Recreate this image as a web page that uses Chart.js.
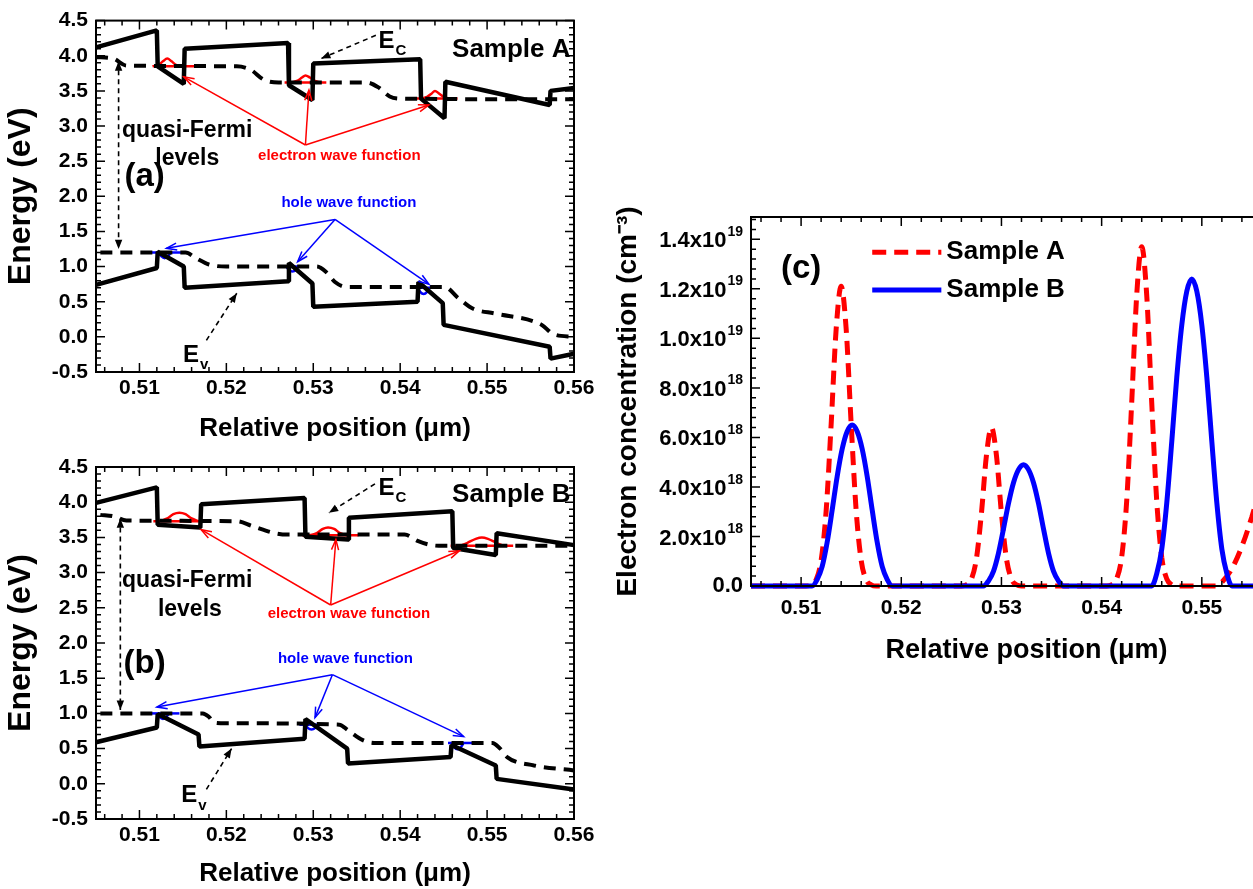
<!DOCTYPE html>
<html>
<head>
<meta charset="utf-8">
<script src="https://cdn.jsdelivr.net/npm/chart.js@4.4.0/dist/chart.umd.min.js"></script>
<style>
  body { margin: 0; background: #fff; width: 1253px; height: 889px; position: relative; overflow: hidden; }
  canvas { position: absolute; }
</style>
</head>
<body>
<canvas id="graficaA" width="600" height="445" style="left:0;top:0"></canvas>
<canvas id="graficaB" width="600" height="444" style="left:0;top:445px"></canvas>
<canvas id="graficaC" width="720" height="500" style="left:600px;top:180px"></canvas>
<script>
//-----------------------------------------------------------------------------------------
//DATOS (posicion en um, energia en eV, concentracion en 1e18 cm-3)
//-----------------------------------------------------------------------------------------
var ticksX = [0.51, 0.52, 0.53, 0.54, 0.55, 0.56];
var etiquetasX = ['0.51', '0.52', '0.53', '0.54', '0.55', '0.56'];
var ticksXC = [0.51, 0.52, 0.53, 0.54, 0.55];
var etiquetasXC = ['0.51', '0.52', '0.53', '0.54', '0.55'];
var ticksEnergia = [-0.5, 0, 0.5, 1, 1.5, 2, 2.5, 3, 3.5, 4, 4.5];
var etiquetasEnergia = ['-0.5', '0.0', '0.5', '1.0', '1.5', '2.0', '2.5', '3.0', '3.5', '4.0', '4.5'];
var ticksConc = [0, 2, 4, 6, 8, 10, 12, 14];
var etiquetasConc = ['0.0', '2.0x10^18', '4.0x10^18', '6.0x10^18', '8.0x10^18', '1.0x10^19', '1.2x10^19', '1.4x10^19'];

//MUESTRA A
var ecA = [[0.505,4.12],[0.512,4.36],[0.5121,3.85],[0.5151,3.60],[0.5152,4.10],[0.5271,4.18],[0.5272,3.58],[0.5299,3.37],[0.5300,3.89],[0.5423,3.95],[0.5424,3.39],[0.5451,3.11],[0.5452,3.63],[0.5572,3.30],[0.5573,3.50],[0.560,3.54]];
var efnA = [[0.505,3.98],[0.507,3.96],[0.5085,3.86],[0.5212,3.85],[0.5228,3.80],[0.5243,3.66],[0.526,3.62],[0.5361,3.62],[0.5375,3.55],[0.5388,3.42],[0.540,3.39],[0.560,3.38]];
var evA = [[0.505,0.74],[0.512,0.98],[0.5121,1.21],[0.5151,1.00],[0.5152,0.70],[0.5271,0.79],[0.5272,1.05],[0.5299,0.76],[0.5300,0.43],[0.5420,0.50],[0.5421,0.78],[0.5449,0.48],[0.5450,0.17],[0.5572,-0.14],[0.5573,-0.31],[0.560,-0.24]];
var efpA = [[0.5055,1.20],[0.5153,1.20],[0.5165,1.12],[0.518,1.03],[0.520,1.00],[0.5304,1.00],[0.5315,0.92],[0.5325,0.78],[0.5338,0.71],[0.5451,0.71],[0.5467,0.55],[0.5484,0.40],[0.551,0.33],[0.5563,0.17],[0.5576,0.04],[0.560,0.0]];
var ondaElecA = [
  [[0.5115,3.85],[0.5122,3.87],[0.5127,3.92],[0.5132,3.96],[0.5137,3.92],[0.5142,3.87],[0.5149,3.85]],
  [[0.5275,3.62],[0.5282,3.645],[0.5287,3.69],[0.5291,3.72],[0.5296,3.69],[0.5301,3.645],[0.5308,3.62]],
  [[0.5424,3.39],[0.5431,3.415],[0.5436,3.46],[0.5440,3.50],[0.5445,3.46],[0.5450,3.415],[0.5457,3.39]]
];
var nivelElecA = [[[0.5118,3.85],[0.5166,3.85]], [[0.5267,3.62],[0.5315,3.62]], [[0.5416,3.39],[0.5466,3.39]]];
var ondaHuecoA = [
  [[0.5122,1.20],[0.5125,1.15],[0.5129,1.12],[0.5133,1.15],[0.5136,1.20]],
  [[0.5269,1.00],[0.5272,0.95],[0.5276,0.93],[0.5280,0.95],[0.5283,1.00]],
  [[0.5420,0.70],[0.5423,0.64],[0.5427,0.61],[0.5431,0.64],[0.5434,0.70]]
];
var nivelHuecoA = [[[0.5114,1.20],[0.5153,1.20]], [[0.5267,1.00],[0.5295,1.00]], [[0.5418,0.70],[0.5447,0.70]]];

//MUESTRA B
var ecB = [[0.505,3.99],[0.512,4.21],[0.5121,3.68],[0.5170,3.64],[0.5171,3.97],[0.529,4.06],[0.5291,3.51],[0.5340,3.47],[0.5341,3.78],[0.546,3.87],[0.5461,3.35],[0.5510,3.25],[0.5511,3.56],[0.560,3.39]];
var efnB = [[0.5055,3.82],[0.507,3.80],[0.5085,3.74],[0.5212,3.73],[0.523,3.66],[0.5256,3.56],[0.527,3.54],[0.5405,3.54],[0.542,3.45],[0.5436,3.39],[0.545,3.38],[0.560,3.38]];
var evB = [[0.505,0.59],[0.512,0.80],[0.5121,0.99],[0.5168,0.70],[0.5169,0.53],[0.529,0.64],[0.5291,0.92],[0.5339,0.50],[0.5340,0.29],[0.5458,0.38],[0.5459,0.55],[0.5510,0.26],[0.5511,0.07],[0.560,-0.08]];
var efpB = [[0.5055,1.00],[0.5173,1.00],[0.518,0.95],[0.5186,0.87],[0.520,0.86],[0.533,0.84],[0.534,0.76],[0.5357,0.62],[0.537,0.58],[0.5506,0.58],[0.5515,0.50],[0.5523,0.38],[0.5554,0.26],[0.560,0.19]];
var ondaElecB = [
  [[0.5124,3.73],[0.5132,3.77],[0.5139,3.83],[0.5146,3.85],[0.5153,3.83],[0.5160,3.77],[0.5168,3.73]],
  [[0.5296,3.53],[0.5304,3.56],[0.5311,3.62],[0.5317,3.64],[0.5324,3.62],[0.5331,3.56],[0.5339,3.53]],
  [[0.5469,3.38],[0.5477,3.42],[0.5487,3.48],[0.5494,3.50],[0.5501,3.48],[0.5511,3.42],[0.5519,3.38]]
];
var nivelElecB = [[[0.5116,3.73],[0.5170,3.73]], [[0.5287,3.53],[0.5352,3.53]], [[0.5458,3.38],[0.5530,3.38]]];
var ondaHuecoB = [
  [[0.5120,1.00],[0.5123,0.95],[0.5127,0.92],[0.5131,0.95],[0.5134,1.00]],
  [[0.5291,0.84],[0.5294,0.79],[0.5298,0.77],[0.5302,0.79],[0.5305,0.84]],
  [[0.5459,0.58],[0.5462,0.52],[0.5466,0.49],[0.5470,0.52],[0.5473,0.58]]
];
var nivelHuecoB = [[[0.5114,1.00],[0.5146,1.00]], [[0.5284,0.84],[0.5315,0.84]], [[0.5455,0.58],[0.5486,0.58]]];

//CONCENTRACION DE ELECTRONES
var concA = [[0.505,0],[0.5105,0],[0.511,0.05],[0.5115,0.25],[0.512,1.03],[0.5125,3.03],[0.513,6.53],[0.5135,10.37],[0.514,12.1],[0.5145,10.37],[0.515,6.53],[0.5155,3.03],[0.516,1.03],[0.5165,0.25],[0.517,0.05],[0.5175,0],
  [0.526,0],[0.5265,0.05],[0.527,0.28],[0.5275,1.10],[0.528,2.93],[0.5285,5.27],[0.529,6.4],[0.5295,5.27],[0.530,2.93],[0.5305,1.10],[0.531,0.28],[0.5315,0.05],[0.532,0],
  [0.5405,0],[0.541,0.05],[0.5415,0.29],[0.542,1.16],[0.5425,3.43],[0.543,7.40],[0.5435,11.74],[0.544,13.7],[0.5445,11.74],[0.545,7.40],[0.5455,3.43],[0.546,1.16],[0.5465,0.29],[0.547,0.05],[0.5475,0],
  [0.5515,0],[0.552,0.15],[0.553,0.7],[0.554,1.6],[0.555,2.8],[0.556,4.2],[0.557,5.6]];
var concB = [[0.505,0],[0.5111,0],[0.5116,0.26],[0.5121,0.78],[0.5126,1.76],[0.5131,3.06],[0.5136,4.42],[0.5141,5.53],[0.5146,6.24],[0.5151,6.5],[0.5156,6.24],[0.5161,5.53],[0.5166,4.42],[0.5171,3.06],[0.5176,1.76],[0.5181,0.78],[0.5186,0.26],[0.5191,0],
  [0.5282,0],[0.5287,0.20],[0.5292,0.59],[0.5297,1.32],[0.5302,2.30],[0.5307,3.33],[0.5312,4.17],[0.5317,4.70],[0.5322,4.9],[0.5327,4.70],[0.5332,4.17],[0.5337,3.33],[0.5342,2.30],[0.5347,1.32],[0.5352,0.59],[0.5357,0.20],[0.5362,0],
  [0.5450,0],[0.5455,0.50],[0.546,1.49],[0.5465,3.35],[0.547,5.83],[0.5475,8.43],[0.548,10.54],[0.5485,11.9],[0.549,12.4],[0.5495,11.9],[0.550,10.54],[0.5505,8.43],[0.551,5.83],[0.5515,3.35],[0.552,1.49],[0.5525,0.50],[0.553,0],[0.560,0]];

//-----------------------------------------------------------------------------------------
//ESTILOS
//-----------------------------------------------------------------------------------------
var fuente = '"Liberation Sans", Arial, sans-serif';
var rojo = '#ff0000';
var azul = '#0000ff';
Chart.defaults.font.family = fuente;
Chart.defaults.color = '#000';

function serie(puntos, color, ancho, trazo, suave) {
  return {
    data: puntos.map(function (p) { return { x: p[0], y: p[1] }; }),
    borderColor: color,
    borderWidth: ancho,
    borderDash: trazo || [],
    pointRadius: 0,
    fill: false,
    tension: 0,
    cubicInterpolationMode: suave ? 'monotone' : 'default',
    borderJoinStyle: 'bevel',
    clip: 6
  };
}

//MARCAS DE LOS EJES (hacia dentro, en los cuatro lados)
function marcas(paso, mayor, min, max) {
  var lista = [];
  for (var k = Math.ceil(min / paso - 1e-6); k <= Math.floor(max / paso + 1e-6); k++) {
    var v = k * paso;
    var r = v / mayor;
    lista.push({ v: v, mayor: Math.abs(r - Math.round(r)) < 1e-6 });
  }
  return lista;
}

function punta(ctx, x1, y1, x2, y2, tipo) {
  var ang = Math.atan2(y2 - y1, x2 - x1);
  var L = tipo === 'llena' ? 10 : 11;
  var w = tipo === 'llena' ? 0.38 : 0.33;
  var ax = x2 - L * Math.cos(ang - w), ay = y2 - L * Math.sin(ang - w);
  var bx = x2 - L * Math.cos(ang + w), by = y2 - L * Math.sin(ang + w);
  ctx.beginPath();
  if (tipo === 'llena') {
    ctx.moveTo(x2, y2); ctx.lineTo(ax, ay); ctx.lineTo(bx, by); ctx.closePath(); ctx.fill();
  } else {
    ctx.moveTo(ax, ay); ctx.lineTo(x2, y2); ctx.lineTo(bx, by); ctx.stroke();
  }
}

function flecha(ctx, x1, y1, x2, y2, f) {
  ctx.save();
  ctx.strokeStyle = f.color || '#000';
  ctx.fillStyle = f.color || '#000';
  ctx.lineWidth = f.ancho || 1.5;
  ctx.setLineDash(f.trazo || []);
  ctx.beginPath(); ctx.moveTo(x1, y1); ctx.lineTo(x2, y2); ctx.stroke();
  ctx.setLineDash([]);
  if (f.punta) {
    punta(ctx, x1, y1, x2, y2, f.punta);
    if (f.doble) punta(ctx, x2, y2, x1, y1, f.punta);
  }
  ctx.restore();
}

function texto(ctx, x, y, t) {
  var principal = 'bold ' + t.size + 'px ' + fuente;
  var chica = 'bold ' + Math.round(t.size * 0.62) + 'px ' + fuente;
  ctx.save();
  ctx.fillStyle = t.color || '#000';
  ctx.textBaseline = 'middle';
  ctx.textAlign = 'left';
  ctx.font = principal;
  var w = ctx.measureText(t.t).width;
  var extra = t.sub || t.sup || '';
  ctx.font = chica;
  var we = extra ? ctx.measureText(extra).width + 1 : 0;
  var x0 = t.align === 'right' ? x - w - we : (t.align === 'left' ? x : x - (w + we) / 2);
  ctx.font = principal;
  ctx.fillText(t.t, x0, y);
  ctx.font = chica;
  if (t.sub) ctx.fillText(t.sub, x0 + w + 1, y + t.size * 0.4);
  if (t.sup) ctx.fillText(t.sup, x0 + w + 1, y - t.size * 0.42);
  ctx.restore();
}

var decoracion = {
  id: 'decoracion',
  afterDatasetsDraw: function (chart, args, o) {
    var ctx = chart.ctx, a = chart.chartArea;
    var sx = chart.scales.x, sy = chart.scales.y;
    var px = function (v) { return sx.getPixelForValue(v); };
    var py = function (v) { return sy.getPixelForValue(v); };
    ctx.save();
    ctx.strokeStyle = '#000';
    ctx.setLineDash([]);
    ctx.lineWidth = 2;
    ctx.strokeRect(a.left, a.top, a.right - a.left, a.bottom - a.top);
    ctx.lineWidth = 1.5;
    marcas(o.xMenor, o.xMayor, sx.min, sx.max).forEach(function (m) {
      var x = px(m.v), l = m.mayor ? 9 : 5;
      ctx.beginPath();
      ctx.moveTo(x, a.bottom); ctx.lineTo(x, a.bottom - l);
      ctx.moveTo(x, a.top); ctx.lineTo(x, a.top + l);
      ctx.stroke();
    });
    marcas(o.yMenor, o.yMayor, sy.min, sy.max).forEach(function (m) {
      var y = py(m.v), l = m.mayor ? 9 : 5;
      ctx.beginPath();
      ctx.moveTo(a.left, y); ctx.lineTo(a.left + l, y);
      ctx.moveTo(a.right, y); ctx.lineTo(a.right - l, y);
      ctx.stroke();
    });
    (o.flechas || []).forEach(function (f) {
      flecha(ctx, px(f.de[0]), py(f.de[1]), px(f.a[0]), py(f.a[1]), f);
    });
    (o.textos || []).forEach(function (t) { texto(ctx, px(t.x), py(t.y), t); });
    //ETIQUETAS CON EXPONENTE
    if (o.etiquetasY) {
      o.ticksY.forEach(function (v, i) {
        var partes = o.etiquetasY[i].split('^');
        texto(ctx, a.left - 8, py(v) + (partes[1] ? 2 : 0), { t: partes[0], sup: partes[1], size: 22, align: 'right' });
      });
    }
    ctx.restore();
  }
};

//-----------------------------------------------------------------------------------------
//GRAFICAS DE ENERGIA (a) y (b)
//-----------------------------------------------------------------------------------------
function datosEnergia(ec, efn, ev, efp, ondaE, nivelE, ondaH, nivelH) {
  var sets = [
    serie(ec, '#000', 4.5),
    serie(efn, '#000', 4, [12, 8], true),
    serie(ev, '#000', 4.5),
    serie(efp, '#000', 4, [12, 8], true)
  ];
  nivelE.forEach(function (p) { sets.push(serie(p, rojo, 2.5)); });
  ondaE.forEach(function (p) { sets.push(serie(p, rojo, 2.5, null, true)); });
  nivelH.forEach(function (p) { sets.push(serie(p, azul, 2.5)); });
  ondaH.forEach(function (p) { sets.push(serie(p, azul, 2.5, null, true)); });
  return { datasets: sets };
}

function opcionesEnergia(arriba, altoX, bajoTitulo, anotaciones) {
  return {
    responsive: false,
    animation: false,
    layout: { padding: { top: arriba, right: 26, left: 0, bottom: 0 } },
    plugins: { legend: { display: false }, tooltip: { enabled: false }, decoracion: anotaciones },
    scales: {
      x: {
        type: 'linear', min: 0.505, max: 0.56,
        afterBuildTicks: function (s) { s.ticks = ticksX.map(function (v) { return { value: v }; }); },
        afterFit: function (s) { s.height = altoX; },
        grid: { display: false, drawTicks: false },
        border: { display: false },
        ticks: { padding: 4, autoSkip: false, maxRotation: 0, font: { size: 21, weight: 'bold' },
                 callback: function (v, i) { return etiquetasX[i]; } },
        title: { display: true, text: 'Relative position (\u03bcm)', font: { size: 26, weight: 'bold' }, padding: { top: 0, bottom: bajoTitulo } }
      },
      y: {
        type: 'linear', min: -0.5, max: 4.5,
        afterBuildTicks: function (s) { s.ticks = ticksEnergia.map(function (v) { return { value: v }; }); },
        afterFit: function (s) { s.width = 96; },
        grid: { display: false, drawTicks: false },
        border: { display: false },
        ticks: { padding: 8, autoSkip: false, font: { size: 21, weight: 'bold' },
                 callback: function (v, i) { return etiquetasEnergia[i]; } },
        title: { display: true, text: 'Energy (eV)', font: { size: 32, weight: 'bold' }, padding: { top: 2, bottom: 0 } }
      }
    }
  };
}

var negro = { color: '#000', ancho: 1.6, trazo: [5, 4], punta: 'llena' };
function conEstilo(base, extra) { return Object.assign({}, base, extra); }

var anotacionesA = {
  xMenor: 0.002, xMayor: 0.01, yMenor: 0.1, yMayor: 0.5,
  flechas: [
    conEstilo(negro, { de: [0.5076, 3.92], a: [0.5076, 1.25], doble: true }),
    conEstilo(negro, { de: [0.5372, 4.29], a: [0.5309, 3.96] }),
    conEstilo(negro, { de: [0.5177, -0.05], a: [0.5212, 0.62] }),
    { de: [0.5291, 2.73], a: [0.5151, 3.70], color: rojo, punta: 'abierta' },
    { de: [0.5291, 2.73], a: [0.5295, 3.51], color: rojo, punta: 'abierta' },
    { de: [0.5291, 2.73], a: [0.5433, 3.30], color: rojo, punta: 'abierta' },
    { de: [0.5325, 1.67], a: [0.5131, 1.26], color: azul, punta: 'abierta' },
    { de: [0.5325, 1.67], a: [0.5282, 1.07], color: azul, punta: 'abierta' },
    { de: [0.5325, 1.67], a: [0.5433, 0.75], color: azul, punta: 'abierta' }
  ],
  textos: [
    { x: 0.5596, y: 4.08, t: 'Sample A', size: 26, align: 'right' },
    { x: 0.5375, y: 4.20, t: 'E', sub: 'C', size: 24, align: 'left' },
    { x: 0.5155, y: 2.94, t: 'quasi-Fermi', size: 23 },
    { x: 0.5155, y: 2.54, t: 'levels', size: 23 },
    { x: 0.5106, y: 2.28, t: '(a)', size: 33 },
    { x: 0.5330, y: 2.57, t: 'electron wave function', size: 15, color: rojo },
    { x: 0.5341, y: 1.91, t: 'hole wave function', size: 15, color: azul },
    { x: 0.5150, y: -0.26, t: 'E', sub: 'v', size: 24, align: 'left' }
  ]
};

var anotacionesB = {
  xMenor: 0.002, xMayor: 0.01, yMenor: 0.1, yMayor: 0.5,
  flechas: [
    conEstilo(negro, { de: [0.5078, 3.77], a: [0.5078, 1.05], doble: true }),
    conEstilo(negro, { de: [0.5371, 4.26], a: [0.5318, 3.85] }),
    conEstilo(negro, { de: [0.5177, -0.08], a: [0.5206, 0.50] }),
    { de: [0.5320, 2.54], a: [0.5171, 3.61], color: rojo, punta: 'abierta' },
    { de: [0.5320, 2.54], a: [0.5326, 3.47], color: rojo, punta: 'abierta' },
    { de: [0.5320, 2.54], a: [0.5468, 3.31], color: rojo, punta: 'abierta' },
    { de: [0.5322, 1.55], a: [0.5120, 1.09], color: azul, punta: 'abierta' },
    { de: [0.5322, 1.55], a: [0.5302, 0.94], color: azul, punta: 'abierta' },
    { de: [0.5322, 1.55], a: [0.5473, 0.67], color: azul, punta: 'abierta' }
  ],
  textos: [
    { x: 0.5596, y: 4.10, t: 'Sample B', size: 26, align: 'right' },
    { x: 0.5375, y: 4.20, t: 'E', sub: 'C', size: 24, align: 'left' },
    { x: 0.5155, y: 2.89, t: 'quasi-Fermi', size: 23 },
    { x: 0.5158, y: 2.48, t: 'levels', size: 23 },
    { x: 0.5106, y: 1.71, t: '(b)', size: 33 },
    { x: 0.5341, y: 2.41, t: 'electron wave function', size: 15, color: rojo },
    { x: 0.5337, y: 1.78, t: 'hole wave function', size: 15, color: azul },
    { x: 0.5148, y: -0.17, t: 'E', sub: 'v', size: 24, align: 'left' }
  ]
};

new Chart(document.getElementById('graficaA'), {
  type: 'line',
  data: datosEnergia(ecA, efnA, evA, efpA, ondaElecA, nivelElecA, ondaHuecoA, nivelHuecoA),
  options: opcionesEnergia(18, 73, 1, anotacionesA),
  plugins: [decoracion]
});

new Chart(document.getElementById('graficaB'), {
  type: 'line',
  data: datosEnergia(ecB, efnB, evB, efpB, ondaElecB, nivelElecB, ondaHuecoB, nivelHuecoB),
  options: opcionesEnergia(22, 70, 0, anotacionesB),
  plugins: [decoracion]
});

//-----------------------------------------------------------------------------------------
//GRAFICA DE CONCENTRACION (c)  (el borde derecho queda fuera de la imagen)
//-----------------------------------------------------------------------------------------
new Chart(document.getElementById('graficaC'), {
  type: 'line',
  data: {
    datasets: [
      serie(concB, azul, 5, null, true),
      serie(concA, rojo, 5, [14, 8], true)
    ]
  },
  options: {
    responsive: false,
    animation: false,
    layout: { padding: { top: 37, right: 18, left: 0, bottom: 0 } },
    plugins: {
      legend: { display: false },
      tooltip: { enabled: false },
      decoracion: {
        xMenor: 0.002, xMayor: 0.01, yMenor: 0.4, yMayor: 2,
        ticksY: ticksConc, etiquetasY: etiquetasConc,
        flechas: [
          { de: [0.5171, 13.48], a: [0.5240, 13.48], color: rojo, ancho: 5, trazo: [14, 8] },
          { de: [0.5171, 11.95], a: [0.5240, 11.95], color: azul, ancho: 5 }
        ],
        textos: [
          { x: 0.5245, y: 13.48, t: 'Sample A', size: 26, align: 'left' },
          { x: 0.5245, y: 11.95, t: 'Sample B', size: 26, align: 'left' },
          { x: 0.5100, y: 12.8, t: '(c)', size: 33 }
        ]
      }
    },
    scales: {
      x: {
        type: 'linear', min: 0.505, max: 0.56,
        afterBuildTicks: function (s) { s.ticks = ticksXC.map(function (v) { return { value: v }; }); },
        afterFit: function (s) { s.height = 94; },
        grid: { display: false, drawTicks: false },
        border: { display: false },
        ticks: { padding: 10, autoSkip: false, maxRotation: 0, font: { size: 21, weight: 'bold' },
                 callback: function (v, i) { return etiquetasXC[i]; } },
        title: { display: true, text: 'Relative position (\u03bcm)', font: { size: 27, weight: 'bold' }, padding: { top: 0, bottom: 13 } }
      },
      y: {
        type: 'linear', min: 0, max: 14.9,
        afterFit: function (s) { s.width = 151; },
        grid: { display: false, drawTicks: false },
        border: { display: false },
        ticks: { display: false },
        title: { display: true, text: 'Electron concentration (cm\u207b\u00b3)', font: { size: 28, weight: 'bold' }, padding: { top: 11, bottom: 0 } }
      }
    }
  },
  plugins: [decoracion]
});
</script>
</body>
</html>
